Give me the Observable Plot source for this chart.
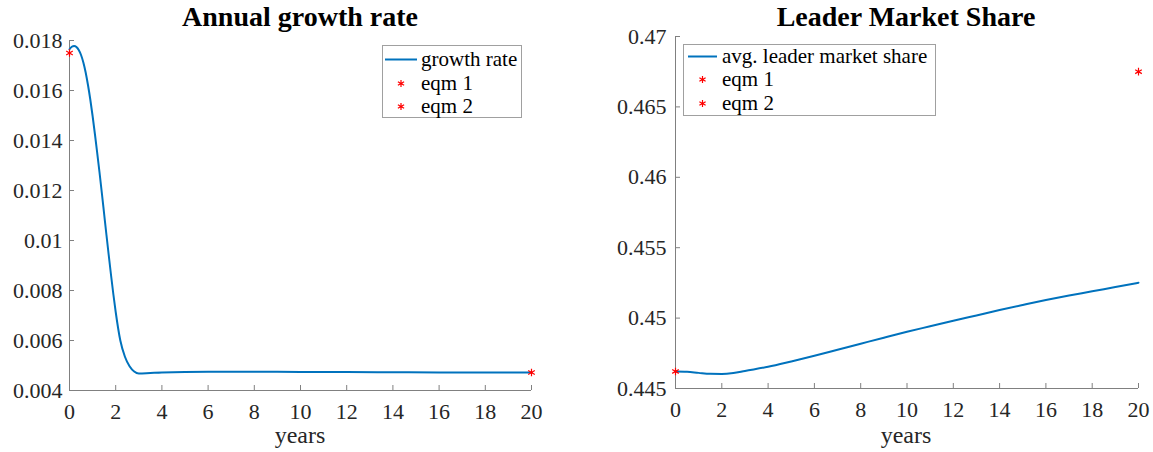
<!DOCTYPE html>
<html>
<head>
<meta charset="utf-8">
<script src="https://cdn.jsdelivr.net/npm/d3@7"></script>
<script src="https://cdn.jsdelivr.net/npm/@observablehq/plot@0.6"></script>
<style>
  html, body { margin: 0; padding: 0; background: #fff; }
  #wrap { position: relative; width: 1153px; height: 452px; overflow: hidden; font-family: 'Liberation Serif', serif; color: #262626; }
  .panel { position: absolute; top: 0; }
  .title { position: absolute; font-weight: bold; font-size: 28px; line-height: 28px; color: #000; white-space: nowrap; transform: translateX(-50%); }
  .xlab { position: absolute; font-size: 24px; line-height: 18px; color: #262626; white-space: nowrap; transform: translateX(-50%); }
  .legend { position: absolute; border: 1px solid #a0a0a0; background: #fff; box-sizing: border-box; }
  .row { position: absolute; left: 0; height: 19px; line-height: 19px; font-size: 21px; color: #000; white-space: nowrap; display: flex; align-items: center; }
  .row svg { flex: none; }
</style>
</head>
<body>
<div id="wrap"></div>
<script>
// ---- data ----
const growthT = [0, 0.1, 0.2, 0.3, 0.4, 0.5, 0.6, 0.7, 0.8, 0.9, 1.0, 1.1, 1.2, 1.3, 1.4, 1.5, 1.6, 1.7, 1.8, 1.9, 2.0, 2.2, 2.4, 2.6, 2.8, 3.0, 3.5, 4, 6, 8, 10, 12, 14, 16, 18, 20];
const growthRate = [0.01765, 0.01775, 0.01778, 0.01774, 0.01762, 0.01742, 0.01712, 0.01672, 0.01622, 0.01564, 0.01498, 0.01426, 0.01350, 0.01272, 0.01190, 0.01106, 0.01022, 0.00940, 0.00860, 0.00784, 0.00714, 0.00600, 0.00535, 0.00497, 0.00476, 0.00468, 0.00470, 0.00472, 0.00475, 0.00475, 0.00474, 0.00474, 0.00473, 0.00472, 0.00472, 0.00472];
const growthEqmT = [0, 20];
const growthEqm = [0.0175, 0.00472];

const shareT = [0, 0.5, 1, 1.5, 2, 2.5, 3, 4, 5, 6, 7, 8, 9, 10, 11, 12, 13, 14, 15, 16, 17, 18, 19, 20];
const leaderShare = [0.44621, 0.44619, 0.44611, 0.44604, 0.44603, 0.44610, 0.44625, 0.44654, 0.44692, 0.44732, 0.44775, 0.44818, 0.44861, 0.44903, 0.44942, 0.44981, 0.45019, 0.45057, 0.45093, 0.45128, 0.45160, 0.45190, 0.45221, 0.45251];
const shareEqmT = [0, 20];
const shareEqm = [0.44621, 0.4675];

const xTicks = [0, 2, 4, 6, 8, 10, 12, 14, 16, 18, 20];
const growthTicks = [0.004, 0.006, 0.008, 0.01, 0.012, 0.014, 0.016, 0.018];
const growthTickLabels = ["0.004", "0.006", "0.008", "0.01", "0.012", "0.014", "0.016", "0.018"];
const shareTicks = [0.445, 0.45, 0.455, 0.46, 0.465, 0.47];
const shareTickLabels = ["0.445", "0.45", "0.455", "0.46", "0.465", "0.47"];

const titles = ["Annual growth rate", "Leader Market Share"];
const xLabel = "years";
const legendLine = ["growth rate", "avg. leader market share"];
const legendEqm = ["eqm 1", "eqm 2"];

// ---- helpers ----
const BLUE = "#0072BD", RED = "#FF0000", AXIS = "#808080";
const FONT = "'Liberation Serif', serif";
const lineData = (ts, vs) => ts.map((t, i) => ({t, v: vs[i]}));

function panel({width, mL, mR, mT, mB, yDomain, yTicks, yLabels, yPad, line, eqm}) {
  const fmtY = v => yLabels[yTicks.findIndex(d => Math.abs(d - v) < 1e-9)];
  return Plot.plot({
    width, height: 452,
    marginLeft: mL, marginRight: mR, marginTop: mT, marginBottom: mB,
    style: {fontFamily: FONT, fontSize: "22px", color: "#262626", background: "transparent", overflow: "visible"},
    x: {domain: [0, 20]},
    y: {domain: yDomain},
    marks: [
      Plot.ruleX([0], {stroke: AXIS}),
      Plot.ruleY([yDomain[0]], {stroke: AXIS}),
      Plot.axisX({ticks: xTicks, tickSize: -5, tickPadding: 18, tickFormat: d => String(d), label: null, stroke: AXIS, fontFamily: FONT}),
      Plot.axisY({ticks: yTicks, tickSize: -5, tickPadding: yPad, tickFormat: fmtY, label: null, stroke: AXIS, fontFamily: FONT}),
      Plot.line(line, {x: "t", y: "v", stroke: BLUE, strokeWidth: 2, curve: "monotone-x"}),
      Plot.dot(eqm, {x: "t", y: "v", symbol: "asterisk", r: 3.6, stroke: RED, strokeWidth: 1.2})
    ]
  });
}

const wrap = document.getElementById("wrap");

const left = panel({
  width: 576, mL: 69, mR: 45, mT: 40, mB: 62,
  yDomain: [0.004, 0.018], yTicks: growthTicks, yLabels: growthTickLabels, yPad: 12,
  line: lineData(growthT, growthRate), eqm: lineData(growthEqmT, growthEqm)
});
const right = panel({
  width: 577, mL: 99, mR: 15, mT: 36, mB: 64,
  yDomain: [0.445, 0.47], yTicks: shareTicks, yLabels: shareTickLabels, yPad: 14,
  line: lineData(shareT, leaderShare), eqm: lineData(shareEqmT, shareEqm)
});

const d1 = document.createElement("div"); d1.className = "panel"; d1.style.left = "0px"; d1.appendChild(left); wrap.appendChild(d1);
const d2 = document.createElement("div"); d2.className = "panel"; d2.style.left = "576px"; d2.appendChild(right); wrap.appendChild(d2);

function addText(cls, text, x, y) {
  const el = document.createElement("div");
  el.className = cls; el.textContent = text;
  el.style.left = x + "px"; el.style.top = y + "px";
  wrap.appendChild(el);
}
addText("title", titles[0], 300, 3);
addText("title", titles[1], 906, 3);
addText("xlab", xLabel, 300, 426);
addText("xlab", xLabel, 906, 426);

function legend({x, y, w, h, rows, lineX0, lineX1, textX}) {
  const box = document.createElement("div");
  box.className = "legend";
  Object.assign(box.style, {left: x + "px", top: y + "px", width: w + "px", height: h + "px"});
  const ns = "http://www.w3.org/2000/svg";
  rows.forEach((r) => {
    const row = document.createElement("div");
    row.className = "row";
    row.style.top = (r.cy - y - 9.5 - 1) + "px";
    row.style.left = (lineX0 - x - 1) + "px";
    const sw = textX - lineX0;
    const svg = document.createElementNS(ns, "svg");
    svg.setAttribute("width", sw); svg.setAttribute("height", 19);
    if (r.kind === "line") {
      const l = document.createElementNS(ns, "line");
      l.setAttribute("x1", 0); l.setAttribute("x2", lineX1 - lineX0);
      l.setAttribute("y1", 9.5); l.setAttribute("y2", 9.5);
      l.setAttribute("stroke", BLUE); l.setAttribute("stroke-width", 2);
      svg.appendChild(l);
    } else {
      const p = document.createElementNS(ns, "path");
      p.setAttribute("d", d3.symbol(d3.symbolAsterisk, 36)());
      p.setAttribute("transform", `translate(${(lineX1 - lineX0) / 2},9.5)`);
      p.setAttribute("stroke", RED); p.setAttribute("stroke-width", 1.2); p.setAttribute("fill", "none");
      svg.appendChild(p);
    }
    row.appendChild(svg);
    const t = document.createElement("span"); t.textContent = r.label;
    row.appendChild(t);
    box.appendChild(row);
  });
  wrap.appendChild(box);
}
legend({x: 382, y: 45, w: 140, h: 73, lineX0: 385, lineX1: 417, textX: 421,
  rows: [{kind: "line", label: legendLine[0], cy: 59.5}, {kind: "eqm", label: legendEqm[0], cy: 83}, {kind: "eqm", label: legendEqm[1], cy: 106.5}]});
legend({x: 683, y: 44, w: 253, h: 72, lineX0: 688, lineX1: 717, textX: 722,
  rows: [{kind: "line", label: legendLine[1], cy: 56}, {kind: "eqm", label: legendEqm[0], cy: 79.5}, {kind: "eqm", label: legendEqm[1], cy: 103}]});
</script>
</body>
</html>
